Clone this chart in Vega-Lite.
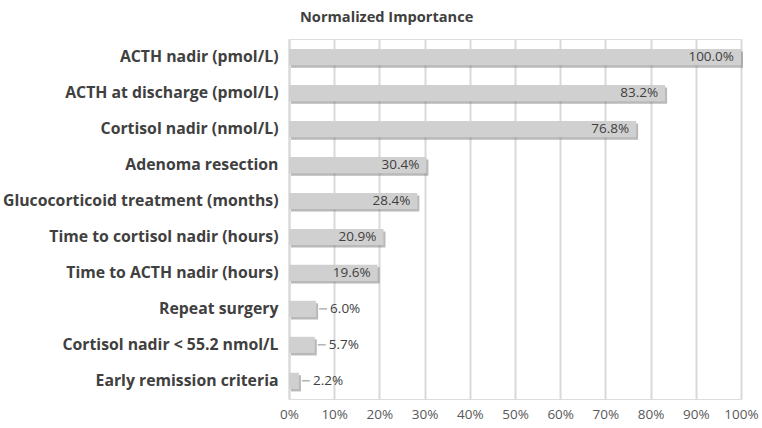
{
  "$schema": "https://vega.github.io/schema/vega-lite/v6.json",
  "width": 452,
  "height": 360,
  "autosize": {"type": "none"},
  "padding": {"left": 289, "top": 39, "right": 21, "bottom": 29},
  "background": "white",
  "title": {"text": "Normalized Importance", "anchor": "start", "frame": "group", "dx": 11, "offset": 14, "font": "Open Sans", "fontSize": 14.6, "fontWeight": "bold", "color": "#404040"},
  "data": {"values": [
    {"name": "ACTH nadir (pmol/L)", "value": 100.0},
    {"name": "ACTH at discharge (pmol/L)", "value": 83.2},
    {"name": "Cortisol nadir (nmol/L)", "value": 76.8},
    {"name": "Adenoma resection", "value": 30.4},
    {"name": "Glucocorticoid treatment (months)", "value": 28.4},
    {"name": "Time to cortisol nadir (hours)", "value": 20.9},
    {"name": "Time to ACTH nadir (hours)", "value": 19.6},
    {"name": "Repeat surgery", "value": 6.0},
    {"name": "Cortisol nadir < 55.2 nmol/L", "value": 5.7},
    {"name": "Early remission criteria", "value": 2.2}
  ]},
  "encoding": {
    "y": {"field": "name", "type": "nominal", "sort": null, "title": null,
      "scale": {"paddingInner": 0.55, "paddingOuter": 0.28},
      "axis": {"labelFont": "Open Sans", "labelFontSize": 15.8, "labelFontWeight": "bold", "labelColor": "#404040", "labelPadding": 11, "labelLimit": 0, "ticks": false, "domain": true, "domainColor": "#d9d9d9", "domainWidth": 2}},
    "x": {"field": "value", "type": "quantitative", "title": null,
      "scale": {"domain": [0, 100], "nice": false},
      "axis": {"values": [0,10,20,30,40,50,60,70,80,90,100], "labelExpr": "datum.value + '%'", "labelOverlap": false, "labelFlush": false, "labelFont": "Open Sans", "labelFontSize": 13.5, "labelColor": "#595959", "labelPadding": 8, "ticks": false, "domain": false, "grid": true, "gridColor": "#d9d9d9", "gridWidth": 2}}
  },
  "layer": [
    {"mark": {"type": "bar", "color": "#7f7f7f", "opacity": 0.55, "xOffset": 2, "yOffset": 2.5}},
    {"mark": {"type": "bar", "color": "#d0d0d0"}},
    {"transform": [{"filter": "datum.value > 10"}],
     "mark": {"type": "text", "align": "right", "dx": -7, "font": "Open Sans", "fontSize": 13.5, "color": "#404040", "text": {"expr": "format(datum.value, '.1f') + '%'"}}},
    {"transform": [{"filter": "datum.value <= 10"}],
     "mark": {"type": "rule", "color": "#8c8c8c", "strokeWidth": 1, "xOffset": 3, "x2Offset": 11},
     "encoding": {"x2": {"field": "value"}}},
    {"transform": [{"filter": "datum.value <= 10"}],
     "mark": {"type": "text", "align": "left", "dx": 14, "font": "Open Sans", "fontSize": 13.5, "color": "#404040", "text": {"expr": "format(datum.value, '.1f') + '%'"}}}
  ]
}
